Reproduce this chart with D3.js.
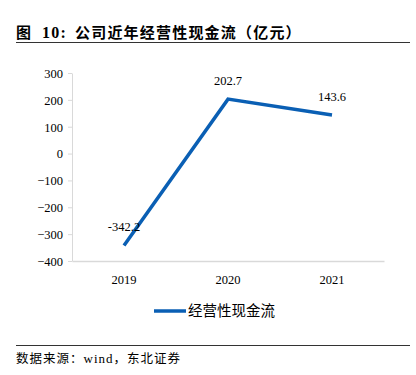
<!DOCTYPE html>
<meta charset="utf-8">
<style>
  body { margin: 0; background: #fff; }
  .axis path, .axis line { stroke: #d9d9d9; }
  .axis text { font-family: 'Liberation Serif', serif; font-size: 12.5px; fill: #000; }
</style>
<body>
<div id="chart"></div>
<script src="https://d3js.org/d3.v7.min.js"></script>
<script>
  // data
  var years = ["2019", "2020", "2021"];
  var cashFlow = [-342.2, 202.7, 143.6];
  var yTicks = [300, 200, 100, 0, -100, -200, -300, -400];

  var width = 416, height = 375;
  var margin = { top: 73, right: 32, bottom: 114, left: 72 };
  var innerW = width - margin.left - margin.right;
  var innerH = height - margin.top - margin.bottom;

  var svg = d3.select("#chart").append("svg")
    .attr("width", width)
    .attr("height", height);

  // title
  var title = svg.append("text")
    .attr("x", 16).attr("y", 38)
    .style("font-family", "'Noto Sans CJK SC', sans-serif")
    .style("font-weight", "bold")
    .style("font-size", "15px")
    .style("letter-spacing", "1.2px");
  title.append("tspan").text("图");
  title.append("tspan").attr("x", 42)
    .style("font-family", "'Liberation Serif', serif")
    .style("font-size", "16px")
    .text("10:");
  title.append("tspan").attr("x", 75).text("公司近年经营性现金流（亿元）");
  svg.append("line")
    .attr("x1", 16).attr("x2", 410).attr("y1", 42.5).attr("y2", 42.5)
    .attr("stroke", "#333").attr("stroke-width", 1);

  var g = svg.append("g").attr("transform", `translate(${margin.left},${margin.top})`);

  var x = d3.scaleBand().domain(years).range([0, innerW]);
  var y = d3.scaleLinear().domain([-400, 300]).range([innerH, 0]);

  // y axis
  g.append("g").attr("class", "axis")
    .call(d3.axisLeft(y).tickValues(yTicks).tickSize(4).tickSizeOuter(0).tickPadding(5))
    .call(a => a.selectAll("text").attr("dy", "0.35em"));

  // x axis at the bottom
  g.append("g").attr("class", "axis")
    .attr("transform", `translate(0,${innerH})`)
    .call(d3.axisBottom(x).tickSize(0).tickPadding(14))
    .call(a => a.select(".domain").attr("stroke-width", 1.5));

  // line
  var line = d3.line()
    .x((d, i) => x(years[i]) + x.bandwidth() / 2)
    .y(d => y(d));
  g.append("path")
    .datum(cashFlow)
    .attr("fill", "none")
    .attr("stroke", "#0a5fb4")
    .attr("stroke-width", 3.5)
    .attr("d", line);

  // data labels
  g.selectAll(".lbl")
    .data(cashFlow)
    .enter().append("text")
    .attr("class", "lbl")
    .attr("x", (d, i) => x(years[i]) + x.bandwidth() / 2)
    .attr("y", d => y(d) - 14)
    .attr("text-anchor", "middle")
    .style("font-family", "'Liberation Serif', serif")
    .style("font-size", "12.5px")
    .text(d => d.toFixed(1));

  // legend
  svg.append("line")
    .attr("x1", 154).attr("x2", 186).attr("y1", 311).attr("y2", 311)
    .attr("stroke", "#0a5fb4").attr("stroke-width", 3.5);
  svg.append("text")
    .attr("x", 188).attr("y", 316)
    .style("font-family", "'Noto Sans CJK SC', sans-serif")
    .style("font-size", "14.5px")
    .text("经营性现金流");

  // footer
  svg.append("line")
    .attr("x1", 16).attr("x2", 410).attr("y1", 345.5).attr("y2", 345.5)
    .attr("stroke", "#333").attr("stroke-width", 1);
  var src = svg.append("text")
    .attr("x", 16).attr("y", 363)
    .style("font-family", "'Noto Sans CJK SC', sans-serif")
    .style("font-size", "12.5px")
    .style("letter-spacing", "1px");
  src.append("tspan").text("数据来源：");
  src.append("tspan").style("font-family", "'Liberation Serif', serif").style("font-size", "13px").text("wind");
  src.append("tspan").text("，东北证券");
</script>
</body>
